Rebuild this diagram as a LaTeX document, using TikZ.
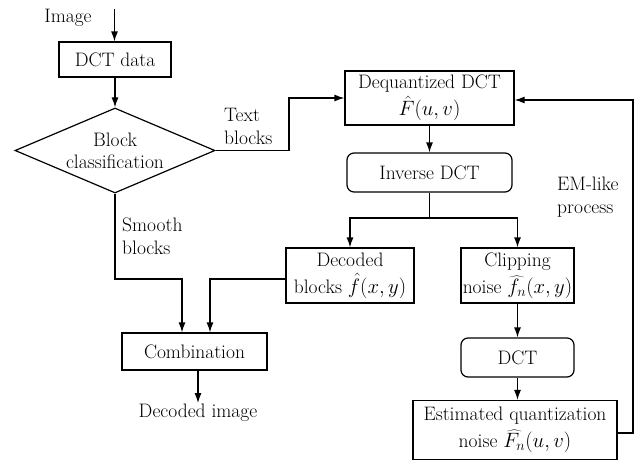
\documentclass[tikz,border=0pt]{standalone}
\usetikzlibrary{arrows.meta,shapes.geometric}
\begin{document}
\begin{tikzpicture}[x=1pt,y=-1pt,
  font=\fontsize{19.5}{24}\selectfont,
  every node/.style={inner sep=1pt, align=center},
  box/.style={draw, line width=1.2pt, rectangle},
  rbox/.style={draw, line width=1.2pt, rectangle, rounded corners=7pt},
  conn/.style={line width=1.2pt},
  arr/.style={line width=1.2pt, -{Latex[length=10pt,width=7pt]}},
  lbl/.style={align=left, anchor=west}]
\useasboundingbox (0,0) rectangle (640,461);
% nodes
\node (img) at (68,18) {Image};
\coordinate (imgtop) at (114.5,9);
\node[box, minimum width=112, minimum height=35] (dct) at (115,59.5) {DCT data};
\node[draw, line width=1.2pt, diamond, minimum width=200, minimum height=85, inner sep=0] (cls) at (115,150.5) {};
\node at (cls) {Block\\[-2pt]classification};
\node[box, minimum width=169, minimum height=54] (deq) at (429.5,98) {Dequantized DCT\\[3pt]$\hat{F}(u,v)$};
\node[rbox, minimum width=165, minimum height=39] (inv) at (429.5,172.5) {Inverse DCT};
\node[box, minimum width=128, minimum height=55] (dec) at (350,275.5) {Decoded\\[3pt]blocks $\hat{f}(x,y)$};
\node[box, minimum width=113, minimum height=55] (clip) at (517.5,275.5) {Clipping\\[3pt]noise $\widehat{f_n}(x,y)$};
\node[rbox, minimum width=113, minimum height=39] (dctn) at (517.5,357.5) {DCT};
\node[box, minimum width=204, minimum height=59] (est) at (515,430) {Estimated quantization\\[3pt]noise $\widehat{F_n}(u,v)$};
\node[box, minimum width=145, minimum height=37] (comb) at (194.5,351.5) {Combination};
\node (out) at (198,413) {Decoded image};
% labels
\node[lbl] (tb) at (223,126) {Text\\[-1pt]blocks};
\node[lbl] (sb) at (121,236) {Smooth\\[-1pt]blocks};
\node[lbl] (em) at (556,197) {EM-like\\[-1pt]process};
% coordinates
\coordinate (tbk) at (289,150.5);
\coordinate (br) at (429.5,218);
\coordinate (sbk) at (115,279);
\coordinate (feed) at (633,100);
% connectors
\draw[arr] (imgtop) -- (dct.north -| imgtop);
\draw[arr] (dct) -- (cls.north);
\draw[arr] (cls.east) -- (tbk) -- (tbk |- deq.west) -- (deq.west);
\draw[arr] (deq) -- (inv);
\draw[conn] (inv.south) -- (br);
\draw[arr] (br) -| (dec.north);
\draw[arr] (br) -| (clip.north);
\draw[arr] (clip) -- (dctn);
\draw[arr] (dctn.south) -- (dctn.south |- est.north);
\draw[arr] (est.east |- 0,433) -| (feed) -- (deq.east |- feed);
\draw[arr] (cls.south) -- (sbk) -| (182,0 |- comb.north);
\draw[arr] (dec.west |- 0,279) -| (210,0 |- comb.north);
\draw[arr] (out.north |- comb.south) -- (out.north);
\end{tikzpicture}
\end{document}
